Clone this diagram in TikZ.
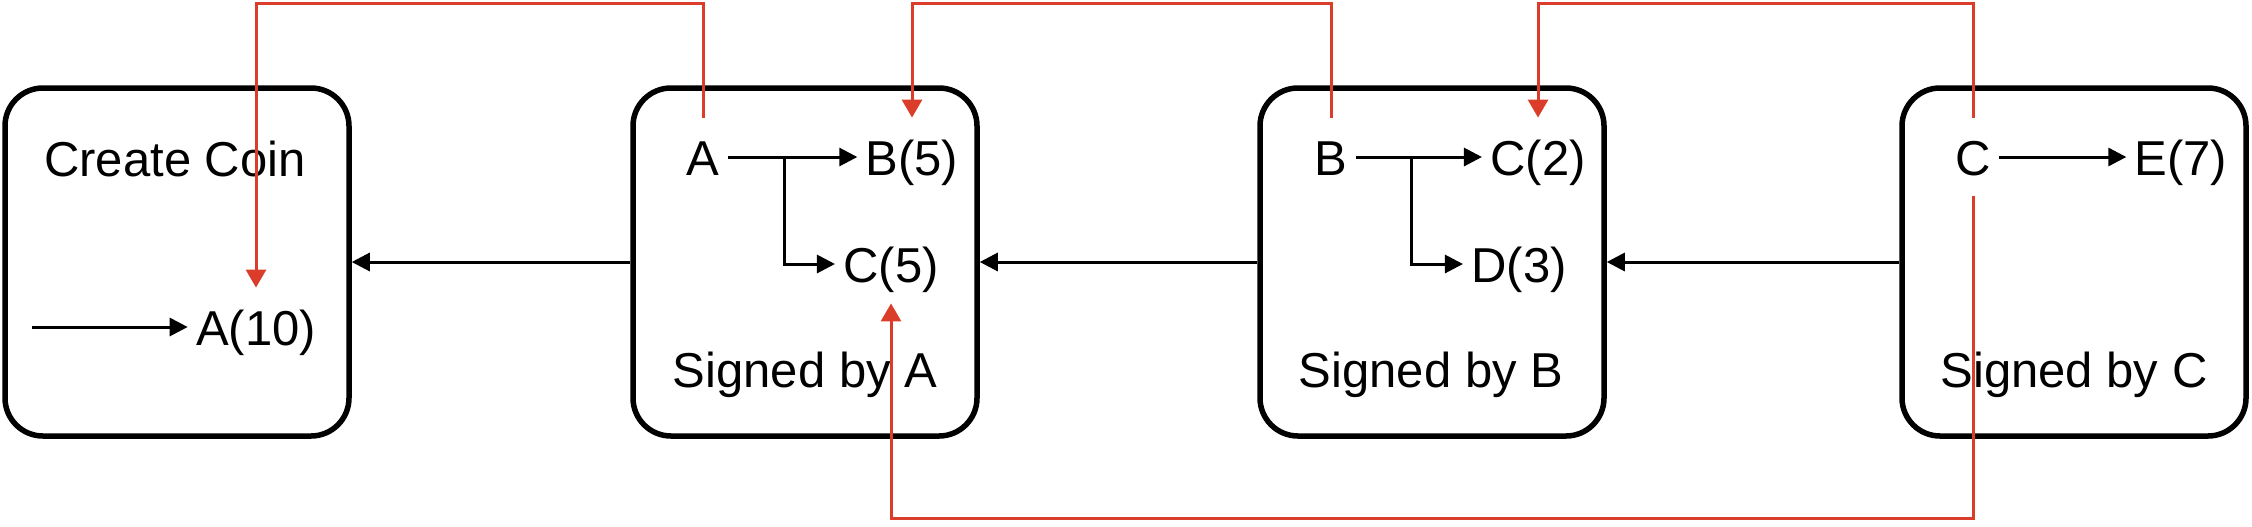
\documentclass[tikz,border=0pt]{standalone}
\usepackage{fontspec}
\setmainfont{Liberation Sans}
\usetikzlibrary{arrows.meta}
\definecolor{redl}{RGB}{218,62,42}
\tikzset{
  box/.style={draw=black, line width=2.75pt, rounded corners=19pt, minimum width=172pt, minimum height=174pt, inner sep=0pt},
  lbl/.style={anchor=base, inner xsep=4pt, inner ysep=10.5pt, text height=18pt, text depth=0pt, font=\fontsize{24.5pt}{29pt}\selectfont},
  arr/.style={draw=black, line width=1.5pt, -{Triangle[length=9pt,width=9pt]}},
  rarr/.style={draw=redl, line width=1.5pt, -{Triangle[length=9pt,width=10pt]}}
}
\begin{document}
\begin{tikzpicture}[x=0.5pt,y=-0.5pt]
\useasboundingbox (0,0) rectangle (2252,526);
% boxes
\node[box] (b1) at (177,262) {};
\node[box] (b2) at (805,262) {};
\node[box] (b3) at (1432,262) {};
\node[box] (b4) at (2074,262) {};
% box 1
\node[lbl] (cc) at (175,176) {Create Coin};
\node[lbl] (a10) at (256,345) {A(10)};
\coordinate (s0) at (32,327);
% box 2
\node[lbl] (nA) at (703,175) {A};
\node[lbl] (b5) at (912,175) {B(5)};
\node[lbl] (c5) at (891,282) {C(5)};
\node[lbl] (sA) at (805,387) {Signed by A};
% box 3
\node[lbl] (nB) at (1331,175) {B};
\node[lbl] (c2) at (1538,175) {C(2)};
\node[lbl] (d3) at (1519,282) {D(3)};
\node[lbl] (sB) at (1431,387) {Signed by B};
% box 4
\node[lbl] (nC) at (1973,175) {C};
\node[lbl] (e7) at (2181,175) {E(7)};
\node[lbl] (sC) at (2074,387) {Signed by C};
% black arrows inside boxes
\draw[arr] (s0) -- (s0 -| a10.west);
\draw[arr] (nA.east) -- (nA.east -| b5.west);
\draw[arr] (nA.east) ++(57,0) |- (c5.west);
\draw[arr] (nB.east) -- (nB.east -| c2.west);
\draw[arr] (nB.east) ++(56,0) |- (d3.west);
\draw[arr] (nC.east) -- (nC.east -| e7.west);
% arrows between boxes
\draw[arr] (b2.west) -- (b1.east);
\draw[arr] (b3.west) -- (b2.east);
\draw[arr] (b4.west) -- (b3.east);
% red arrows
\draw[rarr] (nA.north) -- ++(0,-114) -| (a10.north);
\draw[rarr] (nB.north) -- ++(0,-114) -| (b5.north);
\draw[rarr] (nC.north) -- ++(0,-114) -| (c2.north);
\draw[rarr] (nC.south) -- ++(0,322) -| (c5.south);
\end{tikzpicture}
\end{document}
